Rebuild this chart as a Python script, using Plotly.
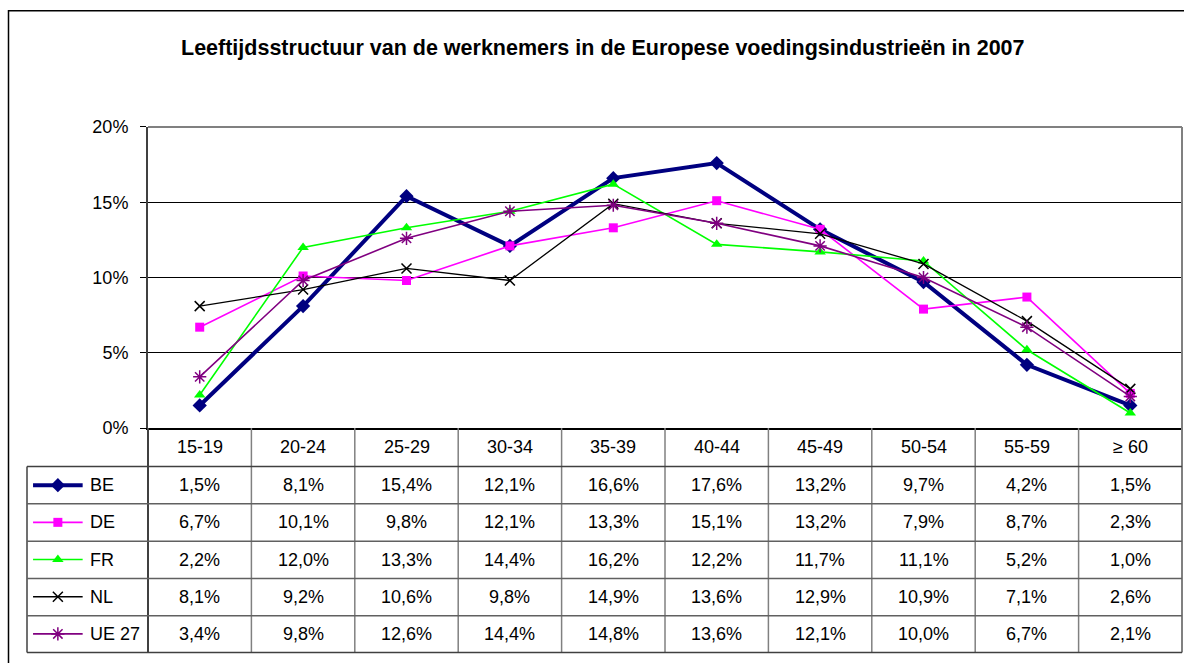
import plotly.graph_objects as go

# ---------------- data ----------------
categories = ["15-19", "20-24", "25-29", "30-34", "35-39", "40-44", "45-49", "50-54", "55-59", "≥ 60"]
series_names = ["BE", "DE", "FR", "NL", "UE 27"]
be = [1.5, 8.1, 15.4, 12.1, 16.6, 17.6, 13.2, 9.7, 4.2, 1.5]
de = [6.7, 10.1, 9.8, 12.1, 13.3, 15.1, 13.2, 7.9, 8.7, 2.3]
fr = [2.2, 12.0, 13.3, 14.4, 16.2, 12.2, 11.7, 11.1, 5.2, 1.0]
nl = [8.1, 9.2, 10.6, 9.8, 14.9, 13.6, 12.9, 10.9, 7.1, 2.6]
ue27 = [3.4, 9.8, 12.6, 14.4, 14.8, 13.6, 12.1, 10.0, 6.7, 2.1]
y_ticks = [0, 5, 10, 15, 20]
y_tick_labels = ["0%", "5%", "10%", "15%", "20%"]
title = "Leeftijdsstructuur van de werknemers in de Europese voedingsindustrieën in 2007"

values = [be, de, fr, nl, ue27]

# ---------------- styles ----------------
styles = [
    dict(color="#000080", width=4, symbol="diamond", size=11, lw=0),
    dict(color="#FF00FF", width=1.6, symbol="square", size=9, lw=0),
    dict(color="#00FF00", width=1.6, symbol="triangle-up", size=10, lw=0),
    dict(color="#000000", width=1.3, symbol="x-thin-open", size=10, lw=1.5),
    dict(color="#800080", width=1.6, symbol="asterisk-open", size=11, lw=1.5),
]

W, H = 1184, 663
# the photographed page maps figure rows to picture rows as Y = A*y + B
A, B = 0.9695, 9.1

def px(x):
    return x / W

def py(Y):
    fy = (Y - B) / A
    fy = min(max(fy, 0.5), H - 0.5)
    return 1 - fy / H

FONT = "Liberation Sans, Arial, sans-serif"
TXT = 18

# geometry (target picture pixels)
PL, PR, PT, PB = 148, 1182, 126, 427   # plot area
HB = 465.5                               # header row bottom
TB = 652.0                               # table bottom
LL = 27                                  # legend column left

fig = go.Figure()

for name, vals, st in zip(series_names, values, styles):
    fig.add_trace(go.Scatter(
        x=categories, y=vals, name=name, mode="lines+markers",
        line=dict(color=st["color"], width=st["width"]),
        marker=dict(symbol=st["symbol"], size=st["size"], color=st["color"],
                    line=dict(width=st["lw"], color=st["color"])),
        xaxis="x", yaxis="y", showlegend=False, cliponaxis=False,
    ))

# legend keys in the table's first column
for name, st in zip(series_names, styles):
    fig.add_trace(go.Scatter(
        x=[0.05, 0.255, 0.46], y=[name, name, name], mode="lines",
        line=dict(color=st["color"], width=st["width"]),
        xaxis="x2", yaxis="y2", showlegend=False, hoverinfo="skip",
    ))
    fig.add_trace(go.Scatter(
        x=[0.255], y=[name], mode="markers",
        marker=dict(symbol=st["symbol"], size=st["size"], color=st["color"],
                    line=dict(width=st["lw"], color=st["color"])),
        xaxis="x2", yaxis="y2", showlegend=False, hoverinfo="skip", cliponaxis=False,
    ))

annotations = []
annotations.append(dict(
    text=title, xref="paper", yref="paper", x=px(603), y=py(47),
    showarrow=False, font=dict(family=FONT, size=21.5, color="black", weight="bold"),
    xanchor="center", yanchor="middle",
))
for c in categories:
    annotations.append(dict(
        text=c, xref="x", yref="paper", x=c, y=py((PB + HB) / 2),
        showarrow=False, font=dict(family=FONT, size=TXT, color="black"),
        xanchor="center", yanchor="middle",
    ))
for name, vals in zip(series_names, values):
    annotations.append(dict(
        text=name, xref="x2", yref="y2", x=0.505, y=name,
        showarrow=False, font=dict(family=FONT, size=TXT, color="black"),
        xanchor="left", yanchor="middle",
    ))
    for c, v in zip(categories, vals):
        annotations.append(dict(
            text=f"{v:.1f}%".replace(".", ","), xref="x", yref="y2", x=c, y=name,
            showarrow=False, font=dict(family=FONT, size=TXT, color="black"),
            xanchor="center", yanchor="middle",
        ))

shapes = []
GRAY = "#808080"
DARK = "#404040"
# outer chart frame
shapes.append(dict(type="rect", xref="paper", yref="paper",
                   x0=px(8.5), x1=px(1200), y0=py(9.8), y1=-0.05,
                   line=dict(color="black", width=1.5)))
# plot area top and right border (gray)
shapes.append(dict(type="line", xref="paper", yref="paper",
                   x0=px(PL), x1=px(PR), y0=py(PT), y1=py(PT),
                   line=dict(color=GRAY, width=2), layer="above"))
shapes.append(dict(type="line", xref="paper", yref="paper",
                   x0=px(PR), x1=px(PR), y0=py(PT), y1=py(TB),
                   line=dict(color=GRAY, width=2), layer="above"))
ncat = len(categories)
for i in range(ncat):
    xx = PL + (PR - PL) * i / ncat
    shapes.append(dict(type="line", xref="paper", yref="paper",
                       x0=px(xx), x1=px(xx), y0=py(PB), y1=py(TB),
                       line=dict(color=DARK if i == 0 else GRAY, width=2 if i == 0 else 1.5)))
shapes.append(dict(type="line", xref="paper", yref="paper",
                   x0=px(LL), x1=px(LL), y0=py(HB), y1=py(TB),
                   line=dict(color=DARK, width=1.5)))
nrow = len(series_names)
for j in range(nrow + 1):
    yy = HB + (TB - HB) * j / nrow
    shapes.append(dict(type="line", xref="paper", yref="paper",
                       x0=px(LL), x1=px(PR), y0=py(yy), y1=py(yy),
                       line=dict(color=DARK if j in (0, nrow) else "#606060", width=1.5)))

fig.update_layout(
    width=W, height=H, autosize=False,
    margin=dict(l=0, r=0, t=0, b=0),
    paper_bgcolor="white", plot_bgcolor="white",
    font=dict(family=FONT, size=TXT, color="black"),
    xaxis=dict(domain=[px(PL), px(PR)], type="category", categoryorder="array",
               categoryarray=categories, range=[-0.5, ncat - 0.5],
               showticklabels=False, showgrid=False, zeroline=False,
               showline=True, linecolor="black", linewidth=2, ticks=""),
    yaxis=dict(domain=[py(PB), py(PT)], range=[0, 20], tickmode="array",
               tickvals=y_ticks, ticktext=y_tick_labels,
               showgrid=True, gridcolor="black", gridwidth=1,
               zeroline=False, showline=True, linecolor=DARK, linewidth=2,
               ticks="outside", ticklen=6, tickcolor="black", tickwidth=1,
               ticklabelstandoff=8, tickfont=dict(family=FONT, size=TXT, color="black")),
    xaxis2=dict(domain=[px(LL), px(PL)], range=[0, 1], visible=False, anchor="y2"),
    yaxis2=dict(domain=[py(TB), py(HB)], type="category", categoryorder="array",
                categoryarray=series_names, range=[nrow - 0.5, -0.5],
                visible=False, anchor="x2"),
    annotations=annotations,
    shapes=shapes,
    showlegend=False,
)

# pin the figure to the window's top-left corner
post = (
    "var s=document.createElement('style');"
    "s.textContent='html,body{margin:0 !important;padding:0 !important;"
    "width:1184px;height:663px;overflow:hidden;}';"
    "document.head.appendChild(s);"
    "var g=document.getElementById('{plot_id}');"
    "g.style.position='fixed';g.style.left='0px';g.style.top='0px';"
)

fig.write_html("out.html", post_script=post, config={"displayModeBar": False})
